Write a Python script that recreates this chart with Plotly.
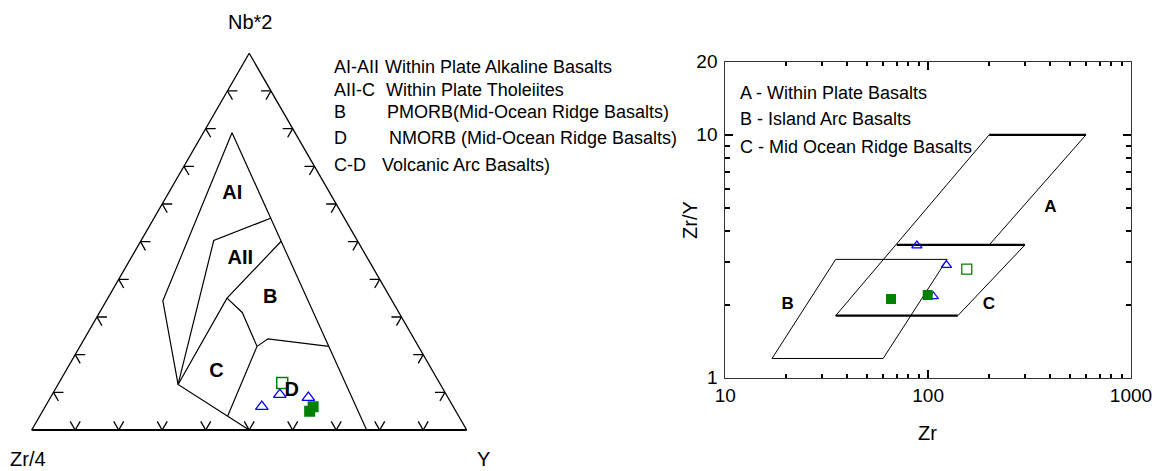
import plotly.graph_objects as go

W, H = 1163, 471
FONT = "Arial, Liberation Sans, sans-serif"

# ---------------- Samples on the Nb*2 - Zr/4 - Y ternary (fractions) ----------------
tri_open_nb2 = [0.094, 0.062, 0.086]
tri_open_zr4 = [0.383, 0.440, 0.321]
tri_open_y = [0.524, 0.498, 0.593]

sq_open_nb2 = [0.125]
sq_open_zr4 = [0.362]
sq_open_y = [0.514]

sq_fill_nb2 = [0.062, 0.050]
sq_fill_zr4 = [0.322, 0.336]
sq_fill_y = [0.616, 0.614]

# ---------------- Same samples on Zr vs Zr/Y ----------------
tri_open_zr = [88, 123, 106]
tri_open_zry = [3.5, 2.91, 2.16]

sq_open_zr = [155]
sq_open_zry = [2.8]

sq_fill_zr = [65.6, 99.5]
sq_fill_zry = [2.11, 2.19]

# ---------------- Meschede (1986) field boundaries: (Nb*2, Zr/4, Y) ----------------
bnd_outer_left = [(0.789, 0.145, 0.066), (0.343, 0.527, 0.130), (0.121, 0.603, 0.276), (0.0, 0.5, 0.5)]
bnd_outer_right = [(0.789, 0.145, 0.066), (0.0, 0.23, 0.77)]
bnd_ai_aii = [(0.562, 0.170, 0.268), (0.503, 0.330, 0.167), (0.121, 0.603, 0.276)]
bnd_aii_b = [(0.501, 0.176, 0.323), (0.350, 0.376, 0.274), (0.121, 0.603, 0.276)]
bnd_b_c = [(0.350, 0.376, 0.274), (0.312, 0.360, 0.328), (0.222, 0.371, 0.407)]
bnd_b_d = [(0.222, 0.371, 0.407), (0.242, 0.336, 0.422), (0.222, 0.206, 0.572)]
bnd_c_d = [(0.222, 0.371, 0.407), (0.037, 0.531, 0.432)]
meschede_boundaries = [bnd_outer_left, bnd_outer_right, bnd_ai_aii, bnd_aii_b, bnd_b_c, bnd_b_d, bnd_c_d]

field_names = ["AI", "AII", "B", "C", "D"]
field_nb2 = [0.626, 0.455, 0.351, 0.154, 0.104]
field_zr4 = [0.226, 0.293, 0.276, 0.498, 0.350]
field_y = [0.148, 0.252, 0.373, 0.348, 0.546]

# ---------------- Pearce & Norry (1979) fields: Zr vs Zr/Y ----------------
wpb_left_zr, wpb_left_zry = [35, 200], [1.8, 10]
wpb_top_zr, wpb_top_zry = [200, 600], [10, 10]
wpb_right_zr, wpb_right_zry = [600, 200], [10, 3.52]
morb_top_zr, morb_top_zry = [70, 300], [3.52, 3.52]
morb_bottom_zr, morb_bottom_zry = [35, 140], [1.8, 1.8]
morb_right_zr, morb_right_zry = [140, 300], [1.8, 3.52]
iab_zr = [17, 60, 124, 35, 17]
iab_zry = [1.2, 1.2, 3.07, 3.07, 1.2]

pn_labels = ["A", "B", "C"]
pn_label_zr = [400, 20.3, 199]
pn_label_zry = [5.0, 1.99, 1.99]

# tick values
x_major = [10, 100, 1000]
x_minor = [20, 30, 40, 50, 60, 70, 80, 90, 200, 300, 400, 500, 600, 700, 800, 900]
y_major = [1, 10, 20]
y_minor = [2, 3, 4, 5, 6, 7, 8, 9]
tern_tick_fracs = [i / 10 for i in range(1, 10)]

GREEN = "#008000"
BLUE = "#0000FF"

fig = go.Figure()

# ---- ternary boundaries ----
for line in meschede_boundaries:
    fig.add_trace(go.Scatterternary(
        a=[p[0] for p in line], b=[p[1] for p in line], c=[p[2] for p in line],
        mode="lines", line=dict(color="black", width=1.2), hoverinfo="skip", showlegend=False))

# ---- ternary chevron ticks (two stubs along the grid directions at every 10 %) ----
L = 0.023
ta, tb, tc = [], [], []


def stub(p, q):
    ta.extend([p[0], q[0], None])
    tb.extend([p[1], q[1], None])
    tc.extend([p[2], q[2], None])


for t in tern_tick_fracs:
    stub((0, 1 - t, t), (L, 1 - t, t - L))
    stub((0, 1 - t, t), (L, 1 - t - L, t))
    stub((t, 1 - t, 0), (t, 1 - t - L, L))
    stub((t, 1 - t, 0), (t - L, 1 - t, L))
    stub((t, 0, 1 - t), (t, L, 1 - t - L))
    stub((t, 0, 1 - t), (t - L, L, 1 - t))

fig.add_trace(go.Scatterternary(a=ta, b=tb, c=tc, mode="lines",
                                line=dict(color="black", width=1.3),
                                hoverinfo="skip", showlegend=False))

# ---- ternary samples ----
fig.add_trace(go.Scatterternary(a=tri_open_nb2, b=tri_open_zr4, c=tri_open_y, mode="markers",
                                marker=dict(symbol="triangle-up-open", size=11, color=BLUE,
                                            line=dict(width=1.3, color=BLUE)),
                                showlegend=False))
fig.add_trace(go.Scatterternary(a=sq_open_nb2, b=sq_open_zr4, c=sq_open_y, mode="markers",
                                marker=dict(symbol="square-open", size=11, color=GREEN,
                                            line=dict(width=1.5, color=GREEN)),
                                showlegend=False))
fig.add_trace(go.Scatterternary(a=sq_fill_nb2, b=sq_fill_zr4, c=sq_fill_y, mode="markers",
                                marker=dict(symbol="square", size=11, color=GREEN,
                                            line=dict(width=0)),
                                showlegend=False))

# ---- ternary field labels ----
fig.add_trace(go.Scatterternary(a=field_nb2, b=field_zr4, c=field_y, mode="text",
                                text=["<b>%s</b>" % s for s in field_names],
                                textfont=dict(family=FONT, size=20, color="black"),
                                hoverinfo="skip", showlegend=False))

# ---- Zr vs Zr/Y fields ----
thin = dict(color="black", width=1)
thick = dict(color="black", width=2.2)
for xs, ys, ln in [
    (wpb_left_zr, wpb_left_zry, thin),
    (wpb_top_zr, wpb_top_zry, thick),
    (wpb_right_zr, wpb_right_zry, thin),
    (morb_top_zr, morb_top_zry, thick),
    (morb_bottom_zr, morb_bottom_zry, thick),
    (morb_right_zr, morb_right_zry, thin),
    (iab_zr, iab_zry, thin),
]:
    fig.add_trace(go.Scatter(x=xs, y=ys, mode="lines", line=ln, xaxis="x", yaxis="y",
                             hoverinfo="skip", showlegend=False))

fig.add_trace(go.Scatter(x=pn_label_zr, y=pn_label_zry, mode="text",
                         text=["<b>%s</b>" % s for s in pn_labels],
                         textfont=dict(family=FONT, size=17, color="black"),
                         hoverinfo="skip", showlegend=False))

fig.add_trace(go.Scatter(x=tri_open_zr, y=tri_open_zry, mode="markers",
                         marker=dict(symbol="triangle-up-open", size=9, color=BLUE,
                                     line=dict(width=1.2, color=BLUE)), showlegend=False))
fig.add_trace(go.Scatter(x=sq_open_zr, y=sq_open_zry, mode="markers",
                         marker=dict(symbol="square-open", size=10, color=GREEN,
                                     line=dict(width=1.3, color=GREEN)), showlegend=False))
fig.add_trace(go.Scatter(x=sq_fill_zr, y=sq_fill_zry, mode="markers",
                         marker=dict(symbol="square", size=10, color=GREEN, line=dict(width=0)),
                         showlegend=False))

tern_axis = dict(showticklabels=False, ticks="", showgrid=False, linecolor="black",
                 linewidth=1.3, title=dict(text=""))
tx0, tx1 = 31.7 / W, 466.7 / W
ty0, ty1 = (H - 430) / H - 0.002, (H - 53.3) / H + 0.002

fig.update_layout(
    width=W, height=H, margin=dict(l=0, r=0, t=0, b=0, pad=0, autoexpand=False),
    showlegend=False,
    paper_bgcolor="white", plot_bgcolor="white",
    font=dict(family=FONT, color="black"),
    ternary=dict(
        domain=dict(x=[tx0, tx1], y=[ty0, ty1]), sum=1, bgcolor="white",
        aaxis=tern_axis, baxis=dict(tern_axis, linewidth=2.2), caxis=tern_axis,
    ),
    xaxis=dict(type="log", range=[1, 3], domain=[725.3 / W, 1131 / W], anchor="y",
               showline=True, linecolor="#333", linewidth=1, mirror="ticks",
               ticks="inside", ticklen=8, tickwidth=2, tickcolor="black",
               tickvals=x_major, ticktext=[str(v) for v in x_major],
               tickfont=dict(size=19), showgrid=False, zeroline=False, automargin=False,
               minor=dict(tickvals=x_minor, ticks="inside", ticklen=4, tickwidth=2,
                          tickcolor="black", showgrid=False)),
    yaxis=dict(type="log", range=[0, 1.30103], domain=[(H - 377.7) / H, (H - 61.7) / H],
               anchor="x", showline=True, linecolor="#333", linewidth=1, mirror="ticks",
               ticks="inside", ticklen=8, tickwidth=2, tickcolor="black",
               tickvals=y_major, ticktext=[str(v) for v in y_major],
               tickfont=dict(size=19), showgrid=False, zeroline=False, automargin=False,
               ticklabelstandoff=3,
               minor=dict(tickvals=y_minor, ticks="inside", ticklen=5, tickwidth=2,
                          tickcolor="black", showgrid=False)),
)


def px_ann(text, x, y, size, anchor="left", angle=0):
    fig.add_annotation(text=text, x=x / W, y=1 - y / H, xref="paper", yref="paper",
                       xanchor=anchor, yanchor="middle", showarrow=False, textangle=angle,
                       font=dict(family=FONT, size=size, color="black"))


# ternary apex labels
px_ann("Nb*2", 250, 21.7, 20, "center")
px_ann("Zr/4", 28.3, 459, 20, "center")
px_ann("Y", 483, 459, 20, "center")

# field key for the ternary
key_rows = [
    ("AI-AII", "Within Plate Alkaline Basalts", 383, 66.7),
    ("AII-C", "Within Plate Tholeiites", 384, 89.5),
    ("B", "PMORB(Mid-Ocean Ridge Basalts)", 385, 112),
    ("D", "NMORB (Mid-Ocean Ridge Basalts)", 387, 138),
    ("C-D", "Volcanic Arc Basalts)", 380, 164.5),
]
for code, desc, dx, yy in key_rows:
    px_ann(code, 332, yy, 18)
    px_ann(desc, dx, yy, 18)

# field key for Zr vs Zr/Y
px_ann("A - Within Plate Basalts", 737.7, 93.3, 18)
px_ann("B - Island Arc Basalts", 737.7, 119, 18)
px_ann("C - Mid Ocean Ridge Basalts", 737.7, 146.7, 18)

# axis titles
px_ann("Zr", 927, 433, 20, "center")
px_ann("Zr/Y", 690, 220, 20, "center", -90)

fig.write_html("out.html")
